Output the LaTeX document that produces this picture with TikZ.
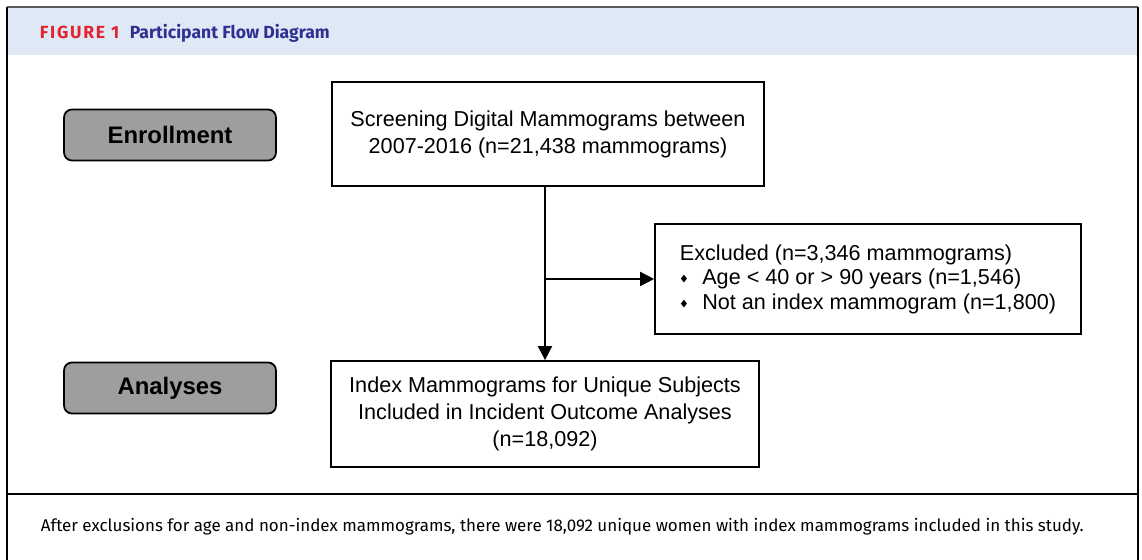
\documentclass[tikz,border=0pt]{standalone}
\usepackage{amssymb}
\usepackage{fontspec}
\setmainfont{Liberation Sans}
\newfontfamily\headfont{Fira Sans}
\usetikzlibrary{arrows.meta,positioning,calc}
\tikzset{>=Triangle}
\definecolor{headband}{RGB}{222,233,245}
\definecolor{figred}{RGB}{226,35,48}
\definecolor{figblue}{RGB}{46,49,146}
\definecolor{phasegray}{RGB}{158,158,158}

\begin{document}
\begin{tikzpicture}[x=0.02cm,y=-0.02cm, line width=1pt]
  % Styles
  \tikzset{
    phase/.style={draw,rounded corners=4.5pt,fill=phasegray,minimum width=4.24cm,
      minimum height=1.02cm,inner sep=0pt,font=\fontsize{13.6}{16}\selectfont\bfseries},
    flowbox/.style={draw,inner sep=0pt,align=center,font=\fontsize{12.3}{15.3}\selectfont},
    arr/.style={->,>={Triangle[length=8pt,width=8pt]}}
  }
  \newcommand{\exbullet}{\raisebox{1.6pt}{\tiny$\blacklozenge$}\hspace{8pt}}

  \useasboundingbox (0,0) rectangle (1142,560);

  %================= FRAME =================
  \fill[headband] (8,8) rectangle (1137,55);
  \draw[gray!70!black] (7,7) -- (1138,7);
  \draw (7,7) -- (7,560);
  \draw (1138,7) -- (1138,560);
  \draw (7,494) -- (1138,494);

  \node[anchor=west,inner sep=0pt,font=\headfont\fontsize{10}{12}\selectfont\bfseries]
    (title) at (39,33) {\textcolor{figred}{\addfontfeature{LetterSpace=10}FIGURE 1}\hspace{6pt}\textcolor{figblue}{Participant Flow Diagram}};

  %================= PHASES =================
  \node[phase] (enroll) at (170,135) {Enrollment};
  \node[phase] (analyses) at (170,388) {Analyses};

  %================= BOXES =================
  \node[flowbox,minimum width=8.64cm,minimum height=2.08cm] (screen) at (548,134)
    {Screening Digital Mammograms between\\2007-2016 (n=21,438 mammograms)};
  \node[flowbox,minimum width=8.52cm,minimum height=2.2cm,align=left,
    font=\fontsize{12.3}{13.9}\selectfont] (excluded) at (868,279)
    {Excluded (n=3,346 mammograms)\\
     \exbullet Age < 40 or > 90 years (n=1,546)\\
     \exbullet Not an index mammogram (n=1,800)};
  \node[flowbox,minimum width=8.56cm,minimum height=2.12cm] (index) at (545,414)
    {Index Mammograms for Unique Subjects\\Included in Incident Outcome Analyses\\(n=18,092)};

  % Arrows
  \draw[arr] (index.north |- screen.south) -- (index.north);
  \draw[arr] (index.north |- excluded.west) -- (excluded.west);

  %================= CAPTION =================
  \node[anchor=west,inner sep=0pt,font=\headfont\fontsize{9.65}{11}\selectfont] (caption) at (40,527)
    {After exclusions for age and non-index mammograms, there were 18,092 unique women with index mammograms included in this study.};

\end{tikzpicture}
\end{document}
